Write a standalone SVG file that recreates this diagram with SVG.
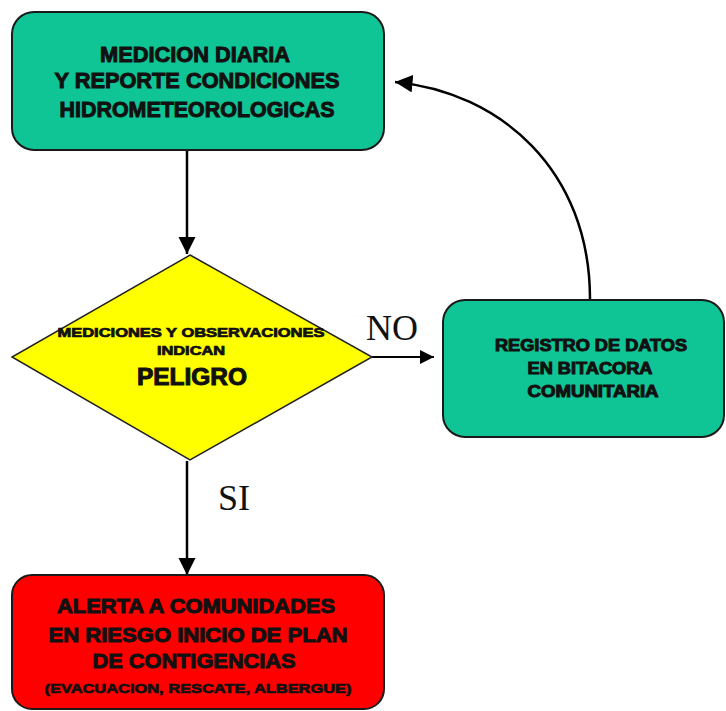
<svg xmlns="http://www.w3.org/2000/svg" width="726" height="711" viewBox="0 0 726 711">
<defs>
<style>
.box{stroke:#1a1a1a;stroke-width:2}
.teal{fill:#10c595}
.t{font-family:"Liberation Sans",Arial,sans-serif;font-weight:bold;fill:#111;stroke:#111;stroke-width:1;text-anchor:middle}
.lbl{font-family:"Liberation Serif","Times New Roman",serif;font-size:36px;fill:#111}
.conn{stroke:#000;stroke-width:2.5;fill:none}
</style>
<marker id="ah" viewBox="0 0 10 10" refX="10" refY="5" markerWidth="7" markerHeight="7" markerUnits="strokeWidth" orient="auto">
<path d="M0,0 L10,5 L0,10 z" fill="#000"/>
</marker>
</defs>
<rect width="726" height="711" fill="#fff"/>
<g id="connectors">
<line class="conn" x1="187" y1="151" x2="187" y2="254" marker-end="url(#ah)"/>
<line class="conn" x1="372" y1="357" x2="434" y2="357" marker-end="url(#ah)" style="stroke-width:2"/>
<line class="conn" x1="187" y1="461" x2="187" y2="575" marker-end="url(#ah)"/>
<path class="conn" d="M590,299 C590,170 500,92 395,82" marker-end="url(#ah)"/>
<text class="lbl" x="366" y="340">NO</text>
<text class="lbl" x="218" y="510">SI</text>
</g>
<g id="medicion">
<rect class="box teal" x="12" y="12" width="372" height="138" rx="22"/>
<text class="t" x="195" y="62" font-size="22" textLength="190" lengthAdjust="spacingAndGlyphs">MEDICION DIARIA</text>
<text class="t" x="197" y="88" font-size="22" textLength="285" lengthAdjust="spacingAndGlyphs">Y REPORTE CONDICIONES</text>
<text class="t" x="197" y="117" font-size="22" textLength="275" lengthAdjust="spacingAndGlyphs">HIDROMETEOROLOGICAS</text>
</g>
<g id="decision">
<polygon points="190,255 372,357 190,460 12,357" fill="#ffff00" stroke="#222" stroke-width="1.5"/>
<text class="t" x="191" y="337" font-size="12" textLength="267" lengthAdjust="spacingAndGlyphs" style="stroke-width:0.7">MEDICIONES Y OBSERVACIONES</text>
<text class="t" x="191" y="355" font-size="12" textLength="68" lengthAdjust="spacingAndGlyphs" style="stroke-width:0.7">INDICAN</text>
<text class="t" x="192" y="385" font-size="23" textLength="110" lengthAdjust="spacingAndGlyphs">PELIGRO</text>
</g>
<g id="registro">
<rect class="box teal" x="443" y="300" width="281" height="137" rx="22"/>
<text class="t" x="591" y="351" font-size="16" textLength="192" lengthAdjust="spacingAndGlyphs">REGISTRO DE DATOS</text>
<text class="t" x="590" y="374" font-size="16" textLength="125" lengthAdjust="spacingAndGlyphs">EN BITACORA</text>
<text class="t" x="593" y="397" font-size="16" textLength="131" lengthAdjust="spacingAndGlyphs">COMUNITARIA</text>
</g>
<g id="alerta">
<rect class="box" fill="#ff0000" x="12" y="575" width="372" height="134" rx="20"/>
<text class="t" x="196" y="613" font-size="21" textLength="278" lengthAdjust="spacingAndGlyphs">ALERTA A COMUNIDADES</text>
<text class="t" x="198" y="642" font-size="21" textLength="299" lengthAdjust="spacingAndGlyphs">EN RIESGO INICIO DE PLAN</text>
<text class="t" x="194" y="668" font-size="21" textLength="203" lengthAdjust="spacingAndGlyphs">DE CONTIGENCIAS</text>
<text class="t" x="198" y="693" font-size="13" textLength="307" lengthAdjust="spacingAndGlyphs" style="stroke-width:0.7">(EVACUACION, RESCATE, ALBERGUE)</text>
</g>
</svg>
